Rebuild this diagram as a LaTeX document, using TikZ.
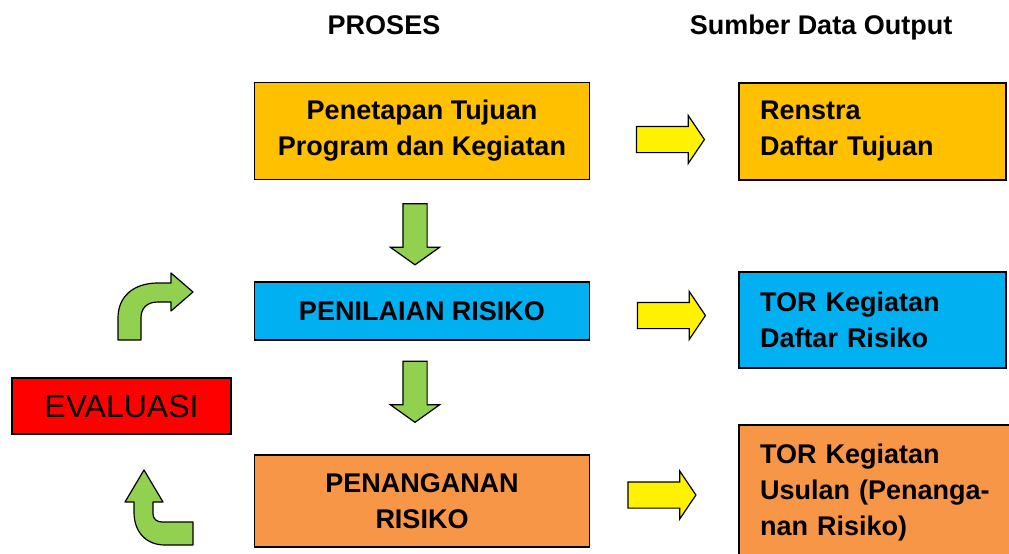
\documentclass[tikz,border=0pt]{standalone}
\usepackage{fontspec}
\setmainfont{Liberation Sans}
\usetikzlibrary{shapes.arrows}

\definecolor{gold}{HTML}{FFC000}
\definecolor{sky}{HTML}{00B0F0}
\definecolor{peach}{HTML}{F79646}
\definecolor{leaf}{HTML}{92D050}

\tikzset{
  box/.style={draw=black, line width=1.5pt, inner sep=0pt, align=center,
    font=\bfseries\fontsize{27}{36}\selectfont},
  outbox/.style={box, align=left, inner xsep=21pt},
  head/.style={anchor=base, font=\bfseries\fontsize{27}{32}\selectfont},
  yarrow/.style={single arrow, draw=black, line width=1.2pt, fill=yellow,
    inner xsep=0pt, inner ysep=12.5pt,
    minimum height=68pt, single arrow head extend=11pt,
    single arrow tip angle=112},
  garrow/.style={single arrow, draw=black, line width=1.2pt, fill=leaf,
    inner xsep=11.5pt, inner ysep=0pt,
    shape border rotate=270, minimum height=61pt,
    single arrow head extend=12.5pt, single arrow tip angle=109},
  bent/.style={draw=black, line width=1.2pt, fill=leaf, line join=round}
}

\begin{document}
\begin{tikzpicture}[x=1pt,y=-1pt]
  \useasboundingbox (0,0) rectangle (1009,554);
  \clip (0,0) rectangle (1009,554);
  % headers
  \node [head] (proses) at (384,34) {PROSES};
  \node [head] (sumber) at (821,34) {Sumber Data Output};
  % proses
  \node [box, fill=gold, minimum width=335, minimum height=97] (tujuan) at (422,131) {Penetapan Tujuan\\Program dan Kegiatan};
  \node [box, fill=sky, minimum width=335, minimum height=58] (penilaian) at (422,311) {PENILAIAN RISIKO};
  \node [box, fill=peach, minimum width=335, minimum height=92] (penanganan) at (422,501) {PENANGANAN\\RISIKO};
  % output
  \node [outbox, fill=gold, minimum width=267, minimum height=97, text width=225] (renstra) at (872.5,131.5) {Renstra\\Daftar Tujuan};
  \node [outbox, fill=sky, minimum width=267, minimum height=96, text width=225] (tor) at (872.5,320) {TOR Kegiatan\\Daftar Risiko};
  \node [outbox, fill=peach, minimum width=276, minimum height=136, text width=234] (usulan) at (877,493) {TOR Kegiatan\\Usulan (Penanga-\\nan Risiko)};
  % evaluasi
  \node [draw=black, line width=1.5pt, fill=red, minimum width=219, minimum height=56,
    font=\fontsize{32}{38}\selectfont] (evaluasi) at (121.5,406) {\raisebox{-3pt}{EVALUASI}};
  % arrows
  \node [yarrow] (ya) at (666,139.5) {};
  \node [yarrow] (yb) at (667,315.5) {};
  \node [yarrow] (yc) at (657.5,495) {};
  \node [garrow] (ga) at (415,230) {};
  \node [garrow] (gb) at (415,387.5) {};
  \draw [bent] (118,340) -- (118,318) .. controls (118,296) and (134,283) .. (158,283) -- (171,283) -- (171,273) -- (193,292) -- (171,311) -- (171,302) -- (158,302) .. controls (147,302) and (141,308) .. (141,318) -- (141,340) -- cycle;
  \draw [bent] (144,470) -- (163,502) -- (153,502) -- (153,514) .. controls (153,519) and (157,522) .. (162,522) -- (193,522) -- (193,545) -- (165,545) .. controls (146,545) and (134,532) .. (134,512) -- (134,502) -- (125,502) -- cycle;
\end{tikzpicture}
\end{document}
